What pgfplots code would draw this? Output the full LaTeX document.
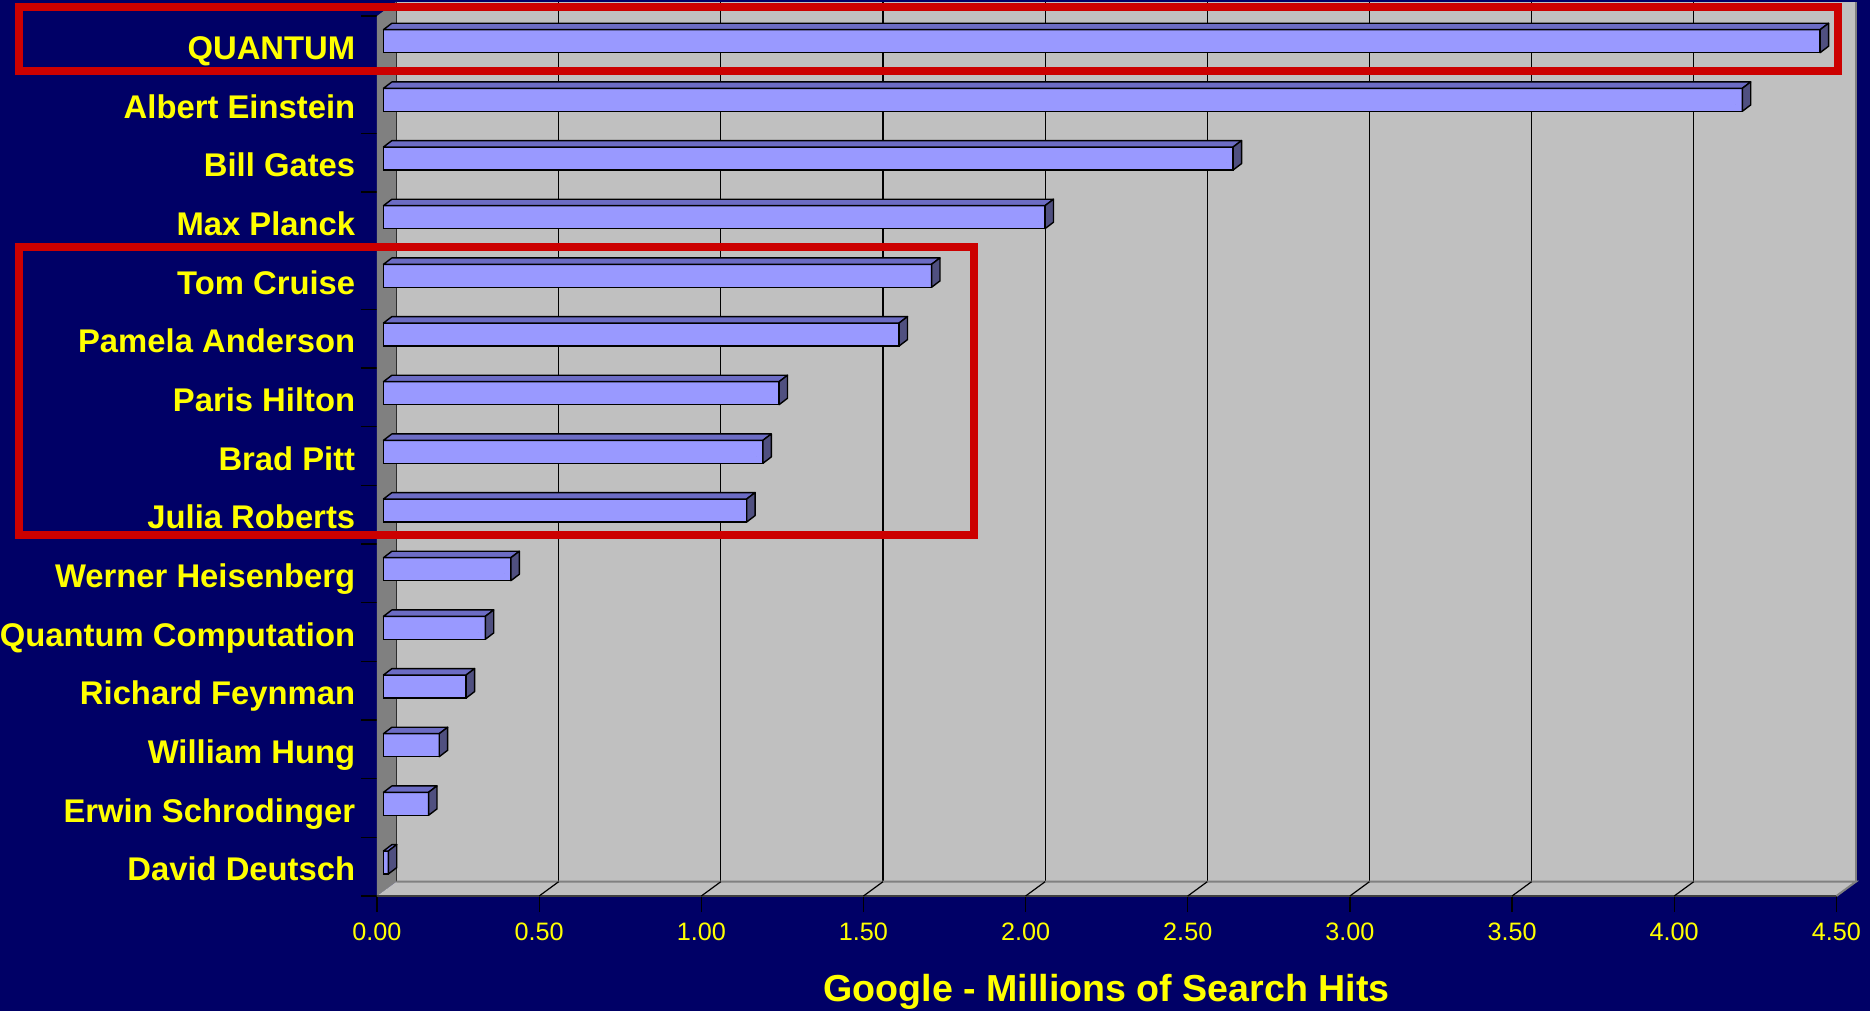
\documentclass[border=0pt]{standalone}
\usepackage{fontspec}
\setmainfont{Liberation Sans}
\usepackage{pgfplots}
\usepackage{pgfplotstable}
\pgfplotsset{compat=1.18}
\definecolor{navybg}{RGB}{0,0,102}
\definecolor{wallgray}{RGB}{192,192,192}
\definecolor{leftwall}{RGB}{128,128,128}
\definecolor{floorline}{RGB}{128,128,128}
\definecolor{frontline}{RGB}{64,64,64}
\definecolor{barfront}{RGB}{153,153,255}
\definecolor{bartop}{RGB}{108,108,196}
\definecolor{barside}{RGB}{80,80,128}
\definecolor{redbox}{RGB}{204,0,0}
\definecolor{labyellow}{RGB}{255,255,0}
\pgfplotstableread{
idx hits
14 4.43
13 4.19
12 2.62
11 2.04
10 1.69
9 1.59
8 1.22
7 1.17
6 1.12
5 0.393
4 0.314
3 0.255
2 0.172
1 0.139
0 0.015
}\hitstable
\begin{document}
\begin{tikzpicture}
\fill[navybg] (-94.25pt,-28.75pt) rectangle (373.25pt,224pt);
\useasboundingbox (-94.25pt,-28.75pt) rectangle (373.25pt,224pt);
% back wall
\fill[wallgray] (4.875pt,3.575pt) rectangle (369.7125pt,223.575pt);
\begin{axis}[
  at={(0pt,0pt)}, anchor=south west,
  x=81.075pt, y=14.6667pt,
  xmin=0, xmax=4.5, ymin=-0.5, ymax=14.5,
  clip=false,
  axis line style={draw=none},
  xmajorgrids,
  grid style={black, line width=0.3pt, xshift=4.875pt, yshift=3.575pt},
  tick pos=left,
  tick align=outside,
  major tick length=4pt,
  tick style={black, line width=0.3pt},
  xtick={0,0.5,1,1.5,2,2.5,3,3.5,4,4.5},
  /pgf/number format/assume math mode=true,
  xticklabel style={/pgf/number format/.cd, fixed, fixed zerofill, precision=2, /tikz/.cd,
    font=\fontsize{6.3}{7.5}\selectfont, text=labyellow, anchor=base, inner sep=0pt, yshift=-7.2pt},
  ytick={-0.5,0.5,1.5,2.5,3.5,4.5,5.5,6.5,7.5,8.5,9.5,10.5,11.5,12.5,13.5,14.5},
  yticklabels={David Deutsch, Erwin Schrodinger, William Hung, Richard Feynman, Quantum Computation, Werner Heisenberg, Julia Roberts, Brad Pitt, Paris Hilton, Pamela Anderson, Tom Cruise, Max Planck, Bill Gates, Albert Einstein, QUANTUM, {}},
  yticklabel style={font=\fontsize{8.2}{9.8}\selectfont\bfseries, text=labyellow, anchor=base east, inner sep=0pt, xshift=-1.25pt, yshift=3.83pt},
  xlabel={Google - Millions of Search Hits},
  xlabel style={at={(axis description cs:0.5,0)}, anchor=base, yshift=-26.25pt, inner sep=0pt,
    font=\fontsize{9.4}{11}\selectfont\bfseries, text=labyellow},
]
% left wall
\fill[leftwall] (axis cs:0,-0.5) -- (axis cs:0,14.5) -- ([xshift=4.875pt,yshift=3.575pt]axis cs:0,14.5) -- ([xshift=4.875pt,yshift=3.575pt]axis cs:0,-0.5) -- cycle;
% floor
\fill[wallgray] (axis cs:0,-0.5) -- (axis cs:4.5,-0.5) -- ([xshift=4.875pt,yshift=3.575pt]axis cs:4.5,-0.5) -- ([xshift=4.875pt,yshift=3.575pt]axis cs:0,-0.5) -- cycle;
\draw[floorline, line width=0.5pt] ([xshift=4.875pt,yshift=3.575pt]axis cs:0,-0.5) -- ([xshift=4.875pt,yshift=3.575pt]axis cs:4.5,-0.5) -- (axis cs:4.5,-0.5);
\draw[floorline, line width=0.4pt] ([xshift=4.875pt,yshift=3.575pt]axis cs:4.5,-0.5) -- ([xshift=4.875pt,yshift=3.575pt]axis cs:4.5,14.5);
\draw[frontline, line width=0.5pt] (axis cs:0,-0.5) -- (axis cs:4.5,-0.5);
\pgfplotsinvokeforeach{0.5,1,1.5,2,2.5,3,3.5,4}{
  \draw[black, line width=0.3pt] (axis cs:#1,-0.5) -- ++(4.875pt,3.575pt);
}
% front faces of bars
\addplot[xbar, bar width=5.75pt, bar shift=1.05pt, xshift=1.625pt,
  fill=barfront, draw=black, line width=0.35pt] table[x=hits,y=idx]{\hitstable};
% top and side faces of bars
\addplot[scatter, only marks, mark=*, mark size=0pt, point meta=x,
  visualization depends on={rawx \as \rawx},
  scatter/@pre marker code/.code={%
    \fill[bartop, draw=black, line width=0.35pt, line join=round]
      ({1.625pt-\rawx*81.075pt},3.925pt) -- (1.625pt,3.925pt) -- (3.725pt,5.525pt) -- ({3.725pt-\rawx*81.075pt},5.525pt) -- cycle;
    \fill[barside, draw=black, line width=0.35pt, line join=round]
      (1.625pt,-1.825pt) -- (1.625pt,3.925pt) -- (3.725pt,5.525pt) -- (3.725pt,-0.225pt) -- cycle;
  },
  scatter/@post marker code/.code={},
] table[x=hits,y=idx]{\hitstable};
\end{axis}
\draw[redbox, line width=2pt] (-89.5pt,206.25pt) rectangle (365.25pt,222.25pt);
\draw[redbox, line width=2pt] (-89.5pt,90.3pt) rectangle (149.25pt,162.25pt);
\end{tikzpicture}
\end{document}
